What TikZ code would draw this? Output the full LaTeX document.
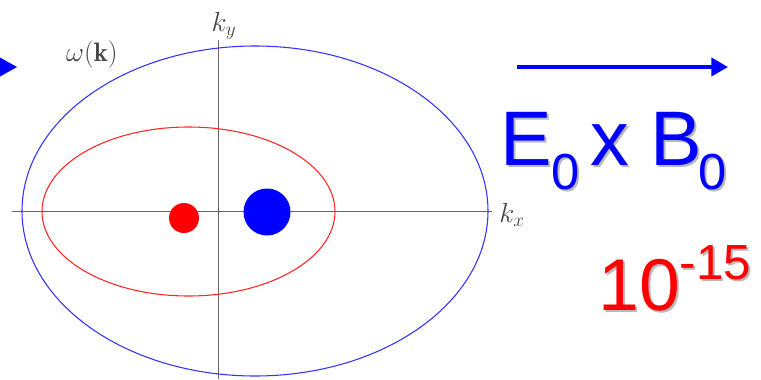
\documentclass[tikz,border=0pt]{standalone}
\usepackage{fontspec}
\usepackage{amsmath}
\newfontfamily\arialfont{Liberation Sans}
\usetikzlibrary{arrows.meta}
\definecolor{labelgray}{RGB}{70,70,70}
\definecolor{shadowgray}{RGB}{185,185,185}
\tikzset{
  axis/.style={draw=gray!80!black, line width=0.6pt},
  klabel/.style={text=labelgray, font=\fontsize{20}{24}\selectfont, inner sep=0pt},
  bigtext/.style={font=\arialfont\fontsize{58}{60}\selectfont, inner sep=0pt, anchor=base west},
}
\newcommand{\sbt}[1]{\raisebox{-0.32em}{\fontsize{38}{40}\selectfont #1}}
\newcommand{\spt}[1]{\raisebox{0.42em}{\fontsize{37}{40}\selectfont #1}}
\newcommand{\exbtext}{E\sbt{0}\hspace{8pt}x\hspace{16pt}B\kern-3pt\sbt{0}}
\begin{document}
\begin{tikzpicture}[x=0.75pt,y=-0.75pt]
    \useasboundingbox (0,0) rectangle (761,379);
    % axes
    \coordinate (xl) at (12,211);
    \coordinate (xr) at (492,211);
    \coordinate (yt) at (218,40);
    \coordinate (yb) at (218,379);
    \draw[axis] (xl) -- (xr);
    \draw[axis] (yt) -- (yb);
    \node[klabel] (kx) at (512,215) {$k_x$};
    \node[klabel] (ky) at (224,26) {$k_y$};
    \node[klabel] (om) at (92,55) {$\omega(\mathbf{k})$};
    % dispersion curves
    \draw[blue!80, line width=0.8pt] (255,211) ellipse [x radius=233, y radius=165];
    \draw[red!85, line width=0.8pt] (188.5,211.5) ellipse [x radius=146.5, y radius=84.5];
    % particles
    \fill[red] (184,218) circle [radius=15];
    \fill[blue] (267,212) circle [radius=23.5];
    % arrows
    \fill[blue] (0,57.5) -- (17,67) -- (0,76.5) -- cycle;
    \coordinate (al) at (517,67);
    \coordinate (ar) at (728,67);
    \draw[blue, line width=3pt, -{Triangle[length=12.5pt,width=13.5pt]}] (al) -- (ar);
    % E0 x B0
    \node[bigtext, text=shadowgray] (exbs) at (502,167) {\exbtext};
    \node[bigtext, text=blue] (exb) at (500,165) {\exbtext};
    % 10^-15
    \node[bigtext, text=shadowgray, font=\arialfont\fontsize{55}{58}\selectfont] (tens) at (600,312) {10\spt{-15}};
    \node[bigtext, text=red, font=\arialfont\fontsize{55}{58}\selectfont] (ten) at (598,310) {10\spt{-15}};
\end{tikzpicture}
\end{document}
